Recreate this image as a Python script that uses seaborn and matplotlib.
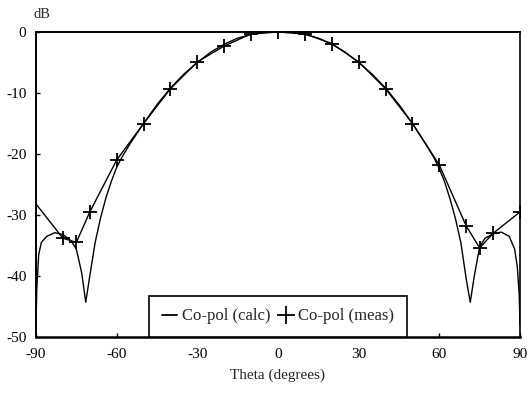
import numpy as np
import pandas as pd
import matplotlib
matplotlib.use("Agg")
import matplotlib.pyplot as plt
import seaborn as sns
from matplotlib.lines import Line2D

# Calculated co-pol pattern
calc_theta = [-90, -89.7, -89, -88, -86, -83, -80, -77, -75, -73, -71.5, -70, -68, -66, -64, -62, -60, -58,
              -55, -50, -45, -40, -35, -30, -25, -20, -15, -10, -5, 0,
              5, 10, 15, 20, 25, 30, 35, 40, 45, 50, 55, 58, 60, 62, 64, 66, 68, 70, 71.5,
              73, 75, 77, 80, 83, 86, 88, 89, 89.7, 90]
calc_db = [-48, -42, -36.5, -34.5, -33.5, -32.9, -33.2, -34.2, -35.6, -39.5, -44.3, -40.0, -34.5, -30.5, -27.2, -24.5, -22.2, -20.5,
           -18.3, -15.0, -11.9, -9.2, -6.9, -5.0, -3.3, -2.0, -1.0, -0.4, -0.1, 0.0,
           -0.1, -0.4, -1.0, -2.0, -3.3, -5.0, -6.9, -9.2, -11.9, -15.0, -18.4, -20.6, -22.4, -24.6, -27.4, -30.6, -34.5, -40.5, -44.3,
           -40.0, -35.2, -33.8, -33.1, -32.8, -33.5, -35.6, -38.5, -43, -48]

# Measured co-pol points
meas_theta = [-90, -80, -75, -70, -60, -50, -40, -30, -20, -10, 0, 10, 20, 30, 40, 50, 60, 70, 75, 80, 90]
meas_db = [-28.2, -33.8, -34.5, -29.5, -21.0, -15.0, -9.3, -4.9, -2.3, -0.3, 0.0, -0.3, -1.9, -4.9, -9.3, -15.0,
           -21.8, -31.8, -35.4, -33.0, -29.5]

x_ticks = [-90, -60, -30, 0, 30, 60, 90]
y_ticks = [-50, -40, -30, -20, -10, 0]
y_tick_labels = ["-50", "-40", "-30", "-20", "-10", "0"]

sns.set_style("ticks")
plt.rcParams["font.family"] = ["Liberation Serif", "DejaVu Serif"]
plt.rcParams["axes.unicode_minus"] = False

fig = plt.figure(figsize=(5.29, 3.95), dpi=100)
ax = fig.add_axes([36 / 529, 1 - 337 / 395, 484 / 529, 305 / 395])

calc_df = pd.DataFrame({"theta": calc_theta, "db": calc_db})
meas_df = pd.DataFrame({"theta": meas_theta, "db": meas_db})

sns.lineplot(data=calc_df, x="theta", y="db", ax=ax, color="black", linewidth=1.0,
             estimator=None, sort=False)
sns.lineplot(data=meas_df, x="theta", y="db", ax=ax, color="black", linewidth=1.0,
             marker="+", markersize=10, markeredgewidth=1.3, markeredgecolor="black",
             markerfacecolor="black", markevery=list(range(1, len(meas_theta))),
             estimator=None, sort=False)

ax.set_xlim(-90, 90)
ax.set_ylim(-50, 0)
ax.set_xticks(x_ticks)
ax.set_xticklabels([str(t) for t in x_ticks])
ax.set_yticks(y_ticks)
ax.set_yticklabels(y_tick_labels)
ax.tick_params(axis="both", direction="in", length=3, width=1, labelsize=11, colors="black")
ax.tick_params(axis="x", pad=8)
ax.tick_params(axis="y", pad=7)

for side in ["top", "right", "left", "bottom"]:
    ax.spines[side].set_visible(True)
    ax.spines[side].set_color("black")
ax.spines["top"].set_linewidth(1.4)
ax.spines["right"].set_linewidth(1.2)
ax.spines["left"].set_linewidth(1.4)
ax.spines["bottom"].set_linewidth(1.8)

ax.set_xlabel("Theta (degrees)", fontsize=11, labelpad=5)
ax.set_ylabel("")
ax.text(0.012, 1.035, "dB", transform=ax.transAxes, fontsize=10.5, ha="center", va="bottom")

handles = [Line2D([], [], color="black", linewidth=1.3),
           Line2D([], [], color="black", linestyle="none", marker="+", markersize=13, markeredgewidth=1.3)]
leg = ax.legend(handles, ["Co-pol (calc)", "Co-pol (meas)"], ncol=2, loc="lower center",
                bbox_to_anchor=(0.5, 0.0), borderaxespad=0, frameon=True, fancybox=False, fontsize=12,
                handlelength=0.9, handletextpad=0.3, columnspacing=0.5, borderpad=0.75,
                edgecolor="black", framealpha=1)
leg.get_frame().set_linewidth(1.2)

fig.savefig("out.png", dpi=100)
